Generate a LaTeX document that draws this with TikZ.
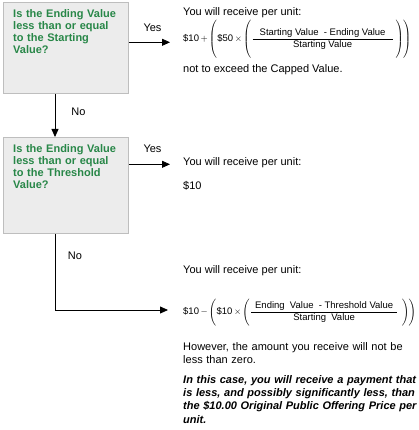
\documentclass[tikz,border=0pt]{standalone}
\usepackage{fontspec}
\setmainfont{Liberation Sans}
\usepackage{amsmath}
\usetikzlibrary{arrows.meta}
\definecolor{qgreen}{RGB}{40,135,72}
\definecolor{boxfill}{RGB}{236,236,236}
\definecolor{boxline}{RGB}{190,190,190}
\newcommand{\strutA}{\rule[-16.6pt]{0pt}{38pt}}
\newcommand{\strutB}{\rule[-11.6pt]{0pt}{28pt}}
\newcommand{\ftxt}[1]{\text{\fontsize{9.5}{10}\selectfont #1}}
\begin{document}
\begin{tikzpicture}[x=1pt,y=-1pt,
  qbox/.style={draw=boxline, fill=boxfill, line width=0.8pt, anchor=north west,
    minimum width=125pt, minimum height=91pt, inner sep=0pt},
  qtext/.style={anchor=base west, inner sep=0pt, text width=115pt, align=left,
    text=qgreen, font=\fontsize{11}{12}\selectfont\bfseries},
  body/.style={anchor=base west, inner sep=0pt, font=\fontsize{11}{13.3}\selectfont},
  lbl/.style={inner sep=0pt, font=\fontsize{11}{13}\selectfont},
  formula/.style={anchor=base west, inner sep=0pt, font=\fontsize{9.5}{10}\selectfont},
  arr/.style={-{Triangle[length=8pt,width=7pt]}, line width=0.8pt}]
\useasboundingbox (0,0) rectangle (419,430);

% question boxes
\node[qbox] (box1) at (3,2) {};
\node[qbox, minimum height=96pt] (box2) at (3,137) {};
\node[qtext] (q1) at (13,18) {Is the Ending Value\\less than or equal\\to the Starting\\Value?};
\node[qtext] (q2) at (13,152.5) {Is the Ending Value\\less than or equal\\to the Threshold\\Value?};

% connectors
\coordinate (vx) at (55,0);
\coordinate (y1) at (170,42.3);
\coordinate (y2) at (170,164.3);
\coordinate (n2) at (55,310);
\coordinate (n2end) at (168,310);
\draw[arr] (box1.east |- y1) -- (y1);
\draw[arr] (box1.south -| vx) -- (box2.north -| vx);
\draw[arr] (box2.east |- y2) -- (y2);
\draw[arr] (box2.south -| vx) -- (n2) -- (n2end);

% labels
\node[lbl] (yes1) at (152.5,27.5) {Yes};
\node[lbl] (no1) at (78.5,111.5) {No};
\node[lbl] (yes2) at (152.5,149) {Yes};
\node[lbl] (no2) at (75,255.5) {No};

% outcome 1
\node[body] (t1) at (183,16) {You will receive per unit:};
\node[formula] (f1) at (183,41.6) {\smash{$\nulldelimiterspace=0pt
  \text{\$10}\mkern3mu\mathord{+}\mkern-1mu\left(\strutA\right.\mkern-2mu
  \text{\$50}\mkern3mu\mathord{\times}\mkern-1mu\left(\strutA\right.
  \dfrac{\kern7pt\ftxt{Starting Value\ \ -\ Ending Value}\kern7pt}{\ftxt{Starting Value}}
  \mkern3mu\left.\strutA\right)\mkern-4mu\left.\strutA\right)$}};
\node[body] (t1b) at (183,72.5) {not to exceed the Capped Value.};

% outcome 2
\node[body] (t2) at (183,165.3) {You will receive per unit:};
\node[body] (t2b) at (183,189.3) {\$10};

% outcome 3
\node[body] (t3) at (183,273) {You will receive per unit:};
\node[formula] (f3) at (183,314.4) {\smash{$\nulldelimiterspace=0pt
  \text{\$10}\mkern3mu\mathord{-}\mkern-1mu\left(\strutB\right.\mkern-2mu
  \text{\$10}\mkern3mu\mathord{\times}\mkern-1mu\left(\strutB\right.
  \dfrac{\kern4pt\ftxt{Ending\ \ Value\ \ -\ Threshold Value}\kern4pt}{\ftxt{Starting\ \ Value}}
  \mkern6mu\left.\strutB\right)\mkern-4mu\left.\strutB\right)$}};
\node[body, text width=234pt] (t3b) at (183,350) {However, the amount you receive will not be\linebreak less than zero.};
\node[body, text width=240pt, align=left] (t3c) at (183,383.3) {\bfseries\itshape In this case, you will receive a payment that\\is less, and possibly significantly less, than\\the \$10.00 Original Public Offering Price per\\unit.};
\end{tikzpicture}
\end{document}
